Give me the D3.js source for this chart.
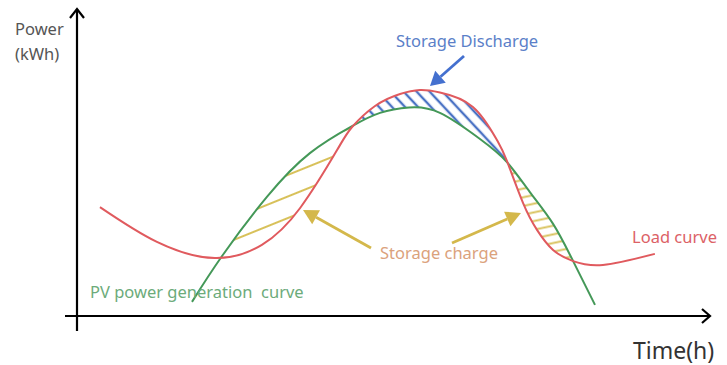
<!DOCTYPE html>
<html><head><meta charset="utf-8">
<script src="https://cdn.jsdelivr.net/npm/d3@7"></script>
<style>
html,body{margin:0;padding:0;background:#fff;}
svg{display:block;font-family:"Noto Sans",sans-serif;}
</style></head>
<body>
<svg id="chart" width="727" height="365"></svg>
<script>
// ---- data ----
const loadHour = [0.87,3.03,5.23,7.01,8.46,9.86,10.43,11.30,12.25,13.00,13.76,15.01,15.92,16.30,16.91,17.44,18.05,18.81,19.94,21.91];
const loadKWh  = [36.3,24.7,19.3,23.7,36,55.3,63,70,74,75.3,74.5,69.7,58.7,51.7,37.7,28.7,22,18.3,17,20.7];
const pvHour = [4.36,5.50,7.20,8.83,10.43,11.49,12.59,13.76,15.28,16.30,17.17,18.05,18.81,19.64];
const pvKWh  = [4.7,20,39.7,54.3,63.3,67.7,69.5,67.7,59,51.3,41.3,30.7,18.3,3.7];
const chargeIntervals = [[5.5,10.43],[16.3,18.81]];
const dischargeIntervals = [[10.43,16.3]];
const labels = {
  yTitle: ["Power","(kWh)"], xTitle: "Time(h)",
  load: "Load curve", pv: "PV power generation\u00a0 curve",
  discharge: "Storage Discharge", charge: "Storage charge"
};

const load = loadHour.map((h,i)=>({h, v: loadKWh[i]}));
const pv = pvHour.map((h,i)=>({h, v: pvKWh[i]}));

const svg = d3.select("#chart");
const x = d3.scaleLinear().domain([0,24]).range([77,710]);
const y = d3.scaleLinear().domain([0,100]).range([316,16]);

const cv = d3.curveNatural;
const line = d3.line().x(d=>x(d.h)).y(d=>y(d.v)).curve(cv);
const areaBelow = d3.area().x(d=>x(d.h)).y0(400).y1(d=>y(d.v)).curve(cv);
const areaAbove = d3.area().x(d=>x(d.h)).y0(-50).y1(d=>y(d.v)).curve(cv);

const defs = svg.append("defs");
defs.append("clipPath").attr("id","underPV").append("path").attr("d", areaBelow(pv));
defs.append("clipPath").attr("id","overLoad").append("path").attr("d", areaAbove(load));
defs.append("clipPath").attr("id","underLoad").append("path").attr("d", areaBelow(load));
defs.append("clipPath").attr("id","overPV").append("path").attr("d", areaAbove(pv));

function hatch(id, spacing, angle, color, w){
  const p = defs.append("pattern").attr("id",id).attr("patternUnits","userSpaceOnUse")
    .attr("width",40).attr("height",spacing).attr("patternTransform",`rotate(${angle})`);
  p.append("line").attr("x1",-5).attr("x2",45).attr("y1",spacing/2).attr("y2",spacing/2)
    .attr("stroke",color).attr("stroke-width",w);
}
hatch("goldL", 20, -22, "#d8c15a", 2);
hatch("goldR", 8.5, -12, "#d8c15a", 2);
hatch("blueH", 9.5, 47, "#4a72c4", 2.2);

chargeIntervals.forEach((iv,i)=>{
  svg.append("g").attr("clip-path","url(#underPV)")
    .append("g").attr("clip-path","url(#overLoad)")
    .append("rect").attr("x",x(iv[0])-2).attr("width",x(iv[1])-x(iv[0])+4)
    .attr("y",0).attr("height",365).attr("fill", i===0 ? "url(#goldL)" : "url(#goldR)");
});
dischargeIntervals.forEach(iv=>{
  svg.append("g").attr("clip-path","url(#underLoad)")
    .append("g").attr("clip-path","url(#overPV)")
    .append("rect").attr("x",x(iv[0])-2).attr("width",x(iv[1])-x(iv[0])+4)
    .attr("y",0).attr("height",365).attr("fill","url(#blueH)");
});

svg.append("path").attr("d", line(pv)).attr("fill","none").attr("stroke","#449858").attr("stroke-width",2);
svg.append("path").attr("d", line(load)).attr("fill","none").attr("stroke","#e05a5e").attr("stroke-width",2);

const ax = svg.append("g").attr("stroke","#000").attr("stroke-width",2.2).attr("fill","none");
ax.append("line").attr("x1",x(0)).attr("x2",x(0)).attr("y1",331).attr("y2",9);
ax.append("line").attr("x1",65).attr("x2",x(24)).attr("y1",y(0)).attr("y2",y(0));
ax.append("path").attr("d",`M${x(0)-7},18 L${x(0)},9 L${x(0)+7},18`);
ax.append("path").attr("d",`M${x(24)-8},${y(0)-7} L${x(24)},${y(0)} L${x(24)-8},${y(0)+7}`);

function arrow(x1,y1,x2,y2,color,w,hl,hw){
  const a = Math.atan2(y2-y1,x2-x1);
  const bx = x2 - hl*Math.cos(a), by = y2 - hl*Math.sin(a);
  svg.append("line").attr("x1",x1).attr("y1",y1).attr("x2",bx).attr("y2",by)
    .attr("stroke",color).attr("stroke-width",w);
  const px = -Math.sin(a)*hw, py = Math.cos(a)*hw;
  svg.append("path").attr("d",`M${x2},${y2} L${bx+px},${by+py} L${bx-px},${by-py} Z`).attr("fill",color);
}
arrow(464,56,430,86,"#4470cf",2.8,14,8);
arrow(371,248,303,210,"#d4b84b",2.8,15,8);
arrow(452,243,521,213,"#d4b84b",2.8,15,8);

const t = (s,xx,yy,size,color,anchor)=>svg.append("text").attr("x",xx).attr("y",yy)
  .attr("font-size",size).attr("fill",color).attr("text-anchor",anchor||"start").text(s);
t(labels.yTitle[0],15,35,16.5,"#555");
t(labels.yTitle[1],15,60,16.5,"#555");
t(labels.xTitle,633,359,23,"#333");
t(labels.discharge,396,47,16.5,"#5b7fc8");
t(labels.charge,380,259,16.5,"#dba27c");
t(labels.load,632,243,16.5,"#dc6166");
t(labels.pv,90,298,16.5,"#6cab7a");
</script>
</body></html>
